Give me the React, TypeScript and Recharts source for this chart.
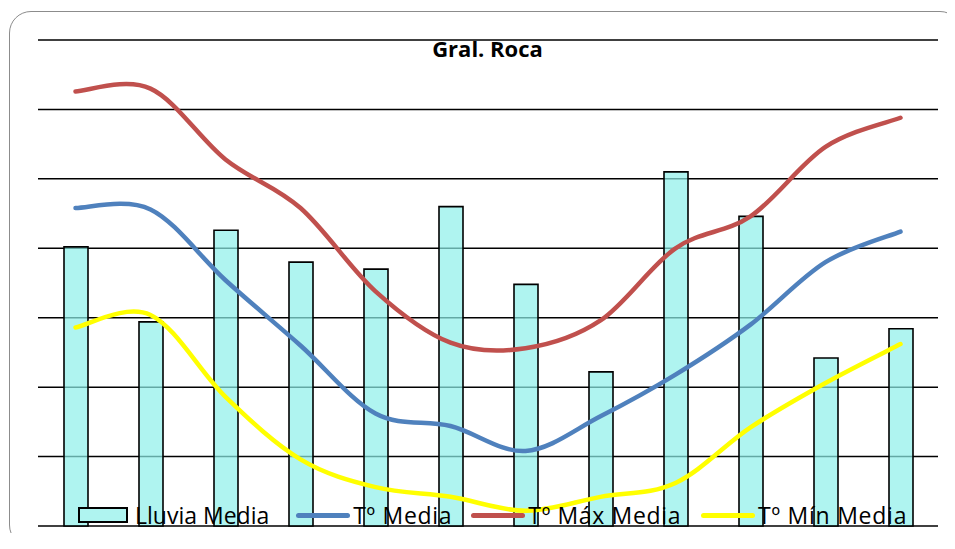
import React from "react";
import { ComposedChart, Bar, Line, XAxis, YAxis, CartesianGrid, Legend } from "recharts";

const MONTHS = ["Ene", "Feb", "Mar", "Abr", "May", "Jun", "Jul", "Ago", "Sep", "Oct", "Nov", "Dic"];
const LLUVIA = [20.1, 14.7, 21.3, 19.0, 18.5, 23.0, 17.4, 11.1, 25.5, 22.3, 12.1, 14.2];
const T_MEDIA = [22.9, 22.8, 17.7, 13.0, 8.1, 7.2, 5.4, 7.9, 10.9, 14.5, 19.0, 21.2];
const T_MAX = [31.3, 31.5, 26.4, 22.9, 16.9, 13.2, 12.8, 14.8, 20.0, 22.3, 27.3, 29.4];
const T_MIN = [14.3, 15.2, 9.3, 4.8, 2.8, 2.1, 1.1, 2.1, 3.1, 7.1, 10.3, 13.1];
const Y_TICKS = [0, 5, 10, 15, 20, 25, 30, 35];

const data = MONTHS.map((m, i) => ({
  mes: m,
  lluvia: LLUVIA[i],
  tmed: T_MEDIA[i],
  tmax: T_MAX[i],
  tmin: T_MIN[i],
}));

const FONT = "'Open Sans', 'Noto Sans', sans-serif";

// smoothed line like the spreadsheet one (catmull-rom through every point)
function smoothCurve(context: any) {
  let pts: [number, number][] = [];
  return {
    areaStart() {},
    areaEnd() {},
    lineStart() { pts = []; },
    lineEnd() {
      if (!pts.length) return;
      context.moveTo(pts[0][0], pts[0][1]);
      for (let i = 0; i < pts.length - 1; i++) {
        const p0 = pts[i - 1] || pts[i];
        const p1 = pts[i];
        const p2 = pts[i + 1];
        const p3 = pts[i + 2] || p2;
        context.bezierCurveTo(
          p1[0] + (p2[0] - p0[0]) / 6, p1[1] + (p2[1] - p0[1]) / 6,
          p2[0] - (p3[0] - p1[0]) / 6, p2[1] - (p3[1] - p1[1]) / 6,
          p2[0], p2[1]
        );
      }
    },
    point(x: number, y: number) { pts.push([+x, +y]); },
  };
}

const LEGEND_ITEMS = [
  { label: "Lluvia Media", color: "#aff4f0", kind: "rect", gap: 27, spacing: 0 },
  { label: "Tº Media", color: "#4f81bd", kind: "line", gap: 19, spacing: 0.7 },
  { label: "Tº Máx Media", color: "#c0504d", kind: "line", gap: 20, spacing: 0.65 },
  { label: "Tº Mín Media", color: "#ffff00", kind: "line", gap: 0, spacing: 0.75 },
];

function renderLegend() {
  return (
    <div style={{ display: "flex", alignItems: "center", fontFamily: FONT, fontSize: 23, color: "#000", whiteSpace: "nowrap" }}>
      {LEGEND_ITEMS.map((it) => (
        <div key={it.label} style={{ display: "flex", alignItems: "center", marginRight: it.gap }}>
          {it.kind === "rect" ? (
            <div style={{ width: 50, height: 16, boxSizing: "border-box", border: "2px solid #000", background: it.color, marginRight: 7 }} />
          ) : (
            <div style={{ width: 54, height: 5, borderRadius: 3, background: it.color, marginRight: 3 }} />
          )}
          <span style={{ letterSpacing: it.spacing }}>{it.label}</span>
        </div>
      ))}
    </div>
  );
}

export default function App() {
  return (
    <div style={{ position: "relative", width: 947, height: 541, overflow: "hidden", marginBottom: -16, background: "#fff" }}>
      <div
        style={{
          position: "absolute", left: 1, top: 3, width: 953, height: 536, boxSizing: "border-box",
          border: "1.5px solid #8c8c8c", borderRadius: 22,
        }}
      />
      <ComposedChart width={947} height={541} data={data} margin={{ top: 32, right: 17, bottom: 23, left: 30 }}>
        <CartesianGrid vertical={false} stroke="#000" strokeWidth={1.5} />
        <XAxis dataKey="mes" hide />
        <YAxis hide domain={[0, 35]} ticks={Y_TICKS} />
        <Bar dataKey="lluvia" barSize={24} fill="#8defe9" fillOpacity={0.7} stroke="#000" strokeWidth={1.6} isAnimationActive={false} />
        <Line dataKey="tmed" type={smoothCurve as any} stroke="#4f81bd" strokeWidth={4.5} strokeLinecap="round" dot={false} isAnimationActive={false} />
        <Line dataKey="tmax" type={smoothCurve as any} stroke="#c0504d" strokeWidth={4.5} strokeLinecap="round" dot={false} isAnimationActive={false} />
        <Line dataKey="tmin" type={smoothCurve as any} stroke="#ffff00" strokeWidth={4.5} strokeLinecap="round" dot={false} isAnimationActive={false} />
        <Legend verticalAlign="middle" align="center" content={renderLegend} wrapperStyle={{ top: 491, left: 70, width: "auto" }} />
      </ComposedChart>
      <div
        style={{
          position: "absolute", top: 25, left: 0, width: 959, textAlign: "center",
          fontFamily: FONT, fontWeight: 700, fontSize: 22, color: "#000", pointerEvents: "none",
        }}
      >
        Gral. Roca
      </div>
    </div>
  );
}
